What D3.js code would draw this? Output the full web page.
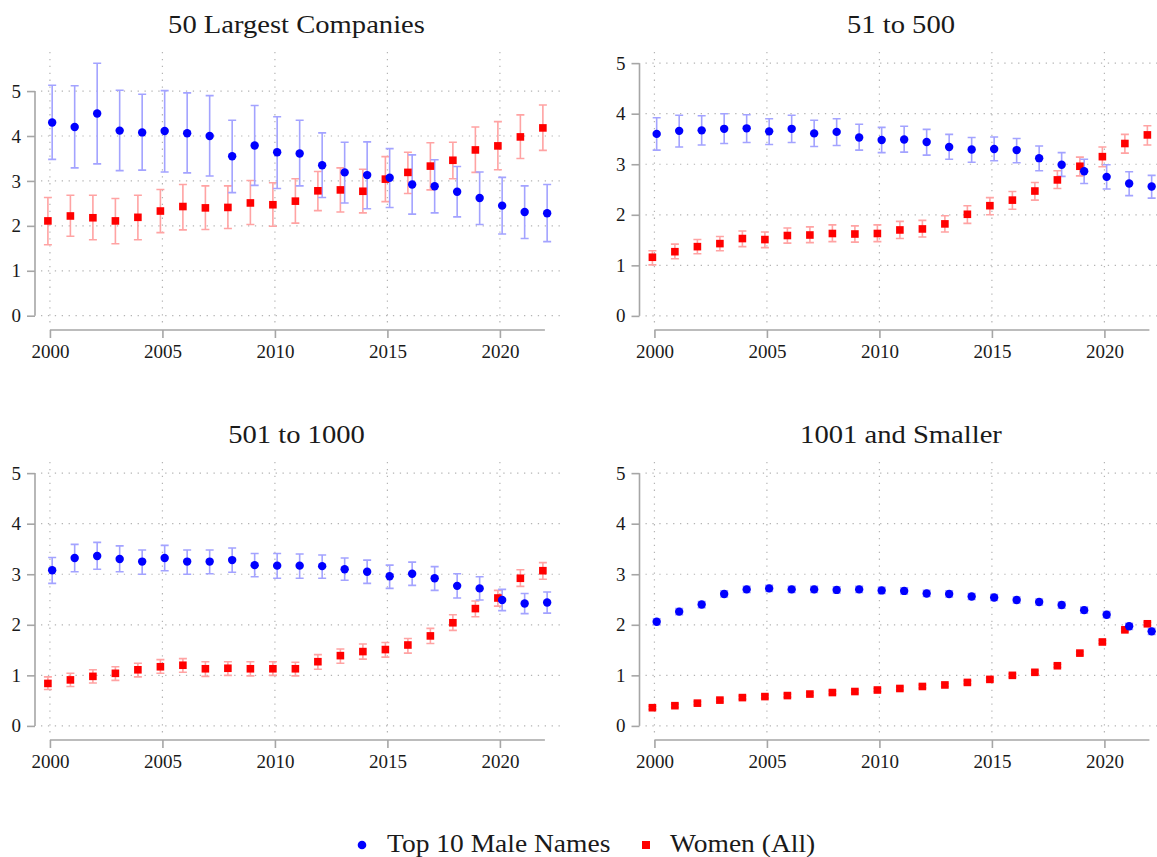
<!DOCTYPE html>
<html>
<head>
<meta charset="utf-8">
<script src="https://cdn.jsdelivr.net/npm/d3@7"></script>
<style>
  html, body { margin: 0; padding: 0; background: #fff; }
  svg { display: block; }
  svg text { font-family: "Liberation Serif", "DejaVu Serif", serif !important; fill: #1a1a1a; }
</style>
</head>
<body>
<svg id="chart" width="1157" height="857"></svg>
<script>
// Years on the x axis
const years = [2000, 2001, 2002, 2003, 2004, 2005, 2006, 2007, 2008, 2009, 2010, 2011,
               2012, 2013, 2014, 2015, 2016, 2017, 2018, 2019, 2020, 2021, 2022];
const xTicks = [2000, 2005, 2010, 2015, 2020];
const yTicks = [0, 1, 2, 3, 4, 5];

// 50 largest companies
const large50MaleMean  = [4.30, 4.20, 4.50, 4.12, 4.08, 4.11, 4.06, 4.00, 3.55, 3.79, 3.64, 3.61, 3.35, 3.19, 3.13, 3.07, 2.92, 2.88, 2.76, 2.62, 2.45, 2.31, 2.28];
const large50MaleLo    = [3.48, 3.29, 3.38, 3.23, 3.24, 3.20, 3.18, 3.11, 2.74, 2.90, 2.83, 2.89, 2.63, 2.51, 2.38, 2.41, 2.26, 2.29, 2.20, 2.03, 1.82, 1.72, 1.65];
const large50MaleHi    = [5.13, 5.12, 5.62, 5.02, 4.93, 5.01, 4.96, 4.90, 4.35, 4.68, 4.43, 4.35, 4.07, 3.86, 3.87, 3.72, 3.58, 3.47, 3.32, 3.20, 3.08, 2.89, 2.92];
const large50WomenMean = [2.11, 2.22, 2.18, 2.11, 2.19, 2.33, 2.43, 2.40, 2.41, 2.51, 2.47, 2.55, 2.78, 2.80, 2.77, 3.04, 3.19, 3.33, 3.46, 3.69, 3.78, 3.98, 4.18];
const large50WomenLo   = [1.58, 1.77, 1.69, 1.60, 1.69, 1.85, 1.91, 1.92, 1.94, 2.03, 1.99, 2.06, 2.34, 2.31, 2.29, 2.54, 2.72, 2.80, 3.05, 3.19, 3.25, 3.50, 3.68];
const large50WomenHi   = [2.63, 2.68, 2.68, 2.61, 2.68, 2.81, 2.92, 2.89, 2.89, 3.01, 2.96, 3.05, 3.21, 3.29, 3.26, 3.54, 3.64, 3.85, 3.86, 4.20, 4.32, 4.47, 4.69];

// Companies ranked 51 to 500
const mid500MaleMean   = [3.60, 3.66, 3.67, 3.70, 3.71, 3.65, 3.70, 3.61, 3.64, 3.53, 3.48, 3.49, 3.44, 3.34, 3.29, 3.30, 3.28, 3.12, 2.99, 2.86, 2.75, 2.62, 2.56];
const mid500MaleLo     = [3.28, 3.34, 3.38, 3.41, 3.43, 3.39, 3.43, 3.35, 3.37, 3.28, 3.23, 3.24, 3.18, 3.10, 3.04, 3.07, 3.03, 2.87, 2.76, 2.62, 2.51, 2.38, 2.33];
const mid500MaleHi     = [3.92, 3.97, 3.96, 4.00, 3.98, 3.90, 3.97, 3.87, 3.90, 3.79, 3.73, 3.75, 3.69, 3.59, 3.53, 3.54, 3.51, 3.36, 3.23, 3.10, 2.99, 2.85, 2.78];
const mid500WomenMean  = [1.16, 1.27, 1.37, 1.43, 1.53, 1.51, 1.59, 1.60, 1.63, 1.62, 1.63, 1.70, 1.72, 1.82, 2.01, 2.18, 2.29, 2.47, 2.69, 2.96, 3.15, 3.41, 3.58];
const mid500WomenLo    = [1.01, 1.13, 1.23, 1.29, 1.37, 1.35, 1.44, 1.45, 1.47, 1.46, 1.47, 1.53, 1.56, 1.66, 1.83, 2.00, 2.11, 2.29, 2.52, 2.77, 2.95, 3.22, 3.38];
const mid500WomenHi    = [1.29, 1.42, 1.51, 1.57, 1.68, 1.66, 1.74, 1.76, 1.80, 1.78, 1.80, 1.87, 1.89, 1.98, 2.18, 2.34, 2.46, 2.64, 2.87, 3.14, 3.34, 3.59, 3.76];

// Companies ranked 501 to 1000
const mid1000MaleMean  = [3.08, 3.32, 3.36, 3.30, 3.25, 3.32, 3.25, 3.25, 3.28, 3.18, 3.17, 3.17, 3.16, 3.10, 3.05, 2.96, 3.01, 2.92, 2.77, 2.72, 2.49, 2.42, 2.44];
const mid1000MaleLo    = [2.82, 3.05, 3.10, 3.05, 3.00, 3.07, 3.00, 3.01, 3.04, 2.95, 2.92, 2.92, 2.92, 2.88, 2.82, 2.72, 2.78, 2.68, 2.53, 2.49, 2.28, 2.22, 2.23];
const mid1000MaleHi    = [3.33, 3.59, 3.63, 3.56, 3.48, 3.57, 3.48, 3.48, 3.52, 3.41, 3.41, 3.40, 3.38, 3.32, 3.28, 3.18, 3.24, 3.15, 3.01, 2.95, 2.70, 2.62, 2.65];
const mid1000WomenMean = [0.84, 0.91, 0.98, 1.04, 1.11, 1.17, 1.20, 1.13, 1.14, 1.13, 1.13, 1.13, 1.27, 1.39, 1.47, 1.51, 1.60, 1.78, 2.04, 2.32, 2.53, 2.92, 3.07];
const mid1000WomenLo   = [0.72, 0.78, 0.85, 0.90, 0.97, 1.04, 1.06, 0.98, 1.00, 0.99, 1.00, 0.99, 1.12, 1.24, 1.32, 1.36, 1.44, 1.63, 1.89, 2.16, 2.37, 2.76, 2.90];
const mid1000WomenHi   = [0.97, 1.04, 1.11, 1.17, 1.24, 1.31, 1.33, 1.27, 1.27, 1.27, 1.27, 1.26, 1.41, 1.52, 1.62, 1.65, 1.73, 1.93, 2.20, 2.47, 2.68, 3.09, 3.23];

// Companies ranked 1001 and below
const smallMaleMean    = [2.06, 2.26, 2.40, 2.61, 2.70, 2.72, 2.70, 2.70, 2.69, 2.70, 2.68, 2.67, 2.62, 2.61, 2.56, 2.54, 2.49, 2.45, 2.39, 2.29, 2.20, 1.97, 1.87];
const smallMaleLo      = [2.00, 2.20, 2.34, 2.55, 2.64, 2.66, 2.64, 2.64, 2.63, 2.64, 2.62, 2.61, 2.56, 2.55, 2.50, 2.48, 2.43, 2.39, 2.33, 2.23, 2.14, 1.91, 1.81];
const smallMaleHi      = [2.12, 2.32, 2.46, 2.67, 2.76, 2.78, 2.76, 2.76, 2.75, 2.76, 2.74, 2.73, 2.68, 2.67, 2.62, 2.60, 2.55, 2.51, 2.45, 2.35, 2.26, 2.03, 1.93];
const smallWomenMean   = [0.36, 0.40, 0.45, 0.51, 0.56, 0.58, 0.60, 0.63, 0.66, 0.68, 0.71, 0.74, 0.78, 0.81, 0.86, 0.92, 1.00, 1.06, 1.19, 1.44, 1.66, 1.90, 2.02];
const smallWomenLo     = [0.33, 0.37, 0.42, 0.48, 0.53, 0.55, 0.57, 0.60, 0.63, 0.65, 0.68, 0.71, 0.75, 0.78, 0.83, 0.89, 0.97, 1.03, 1.16, 1.41, 1.63, 1.87, 1.99];
const smallWomenHi     = [0.39, 0.43, 0.48, 0.54, 0.59, 0.61, 0.63, 0.66, 0.69, 0.71, 0.74, 0.77, 0.81, 0.84, 0.89, 0.95, 1.03, 1.09, 1.22, 1.47, 1.69, 1.93, 2.05];

const panelTitles = ["50 Largest Companies", "51 to 500", "501 to 1000", "1001 and Smaller"];
const legendLabels = ["Top 10 Male Names", "Women (All)"];

const BLUE = "#0000ff", RED = "#ff0000";
const BLUE_CI = "#a3a3ff", RED_CI = "#ffa3a3";
const AXIS = "#a6a6a6", GRID = "#b4b4b4";
const SERIF = "Liberation Serif, DejaVu Serif, serif";

const panels = [
  { title: panelTitles[0], ox: 0,     oy: 0,   yMax: 5.87, yMin: -0.207,
    male: [large50MaleMean, large50MaleLo, large50MaleHi],
    women: [large50WomenMean, large50WomenLo, large50WomenHi] },
  { title: panelTitles[1], ox: 604.5, oy: 0,   yMax: 5.22, yMin: -0.18,
    male: [mid500MaleMean, mid500MaleLo, mid500MaleHi],
    women: [mid500WomenMean, mid500WomenLo, mid500WomenHi] },
  { title: panelTitles[2], ox: 0,     oy: 410, yMax: 5.22, yMin: -0.18,
    male: [mid1000MaleMean, mid1000MaleLo, mid1000MaleHi],
    women: [mid1000WomenMean, mid1000WomenLo, mid1000WomenHi] },
  { title: panelTitles[3], ox: 604.5, oy: 410, yMax: 5.22, yMin: -0.18,
    male: [smallMaleMean, smallMaleLo, smallMaleHi],
    women: [smallWomenMean, smallWomenLo, smallWomenHi] }
];

const svg = d3.select("#chart");
const STRETCH = 1.1; // widen serif text toward the Computer Modern proportions

function stretchText(sel) {
  sel.each(function () {
    const w = this.getComputedTextLength();
    d3.select(this).attr("textLength", w * STRETCH).attr("lengthAdjust", "spacingAndGlyphs");
  });
}

// Panel frame in local coordinates
const plotLeft = 38, plotRight = 562, plotTop = 52, plotBottom = 325;
const yAxisX = 35, xAxisY = 330;
const MALE_SHIFT = 0.1, WOMEN_SHIFT = -0.09;

panels.forEach(p => {
  const g = svg.append("g").attr("transform", `translate(${p.ox},${p.oy})`);

  const x = d3.scaleLinear().domain([1999.47, 2022.76]).range([plotLeft, plotRight]);
  const y = d3.scaleLinear().domain([p.yMin, p.yMax]).range([plotBottom, plotTop]);

  // Title
  g.append("text")
    .attr("x", (yAxisX + plotRight) / 2 - 2)
    .attr("y", 33)
    .attr("text-anchor", "middle")
    .attr("font-family", SERIF)
    .attr("font-size", 26)
    .text(p.title)
    .call(stretchText);

  // Dotted grid
  g.append("g").selectAll("line.hg").data(yTicks).join("line")
    .attr("x1", plotLeft + 3).attr("x2", plotRight)
    .attr("y1", d => y(d)).attr("y2", d => y(d))
    .attr("stroke", GRID).attr("stroke-width", 1.2)
    .attr("stroke-dasharray", "1.3,5.6");
  g.append("g").selectAll("line.vg").data(xTicks).join("line")
    .attr("x1", d => x(d)).attr("x2", d => x(d))
    .attr("y1", plotTop).attr("y2", plotBottom)
    .attr("stroke", GRID).attr("stroke-width", 1.2)
    .attr("stroke-dasharray", "1.3,5.6");

  // Y axis: line spans 0..5 only
  const yAxis = d3.axisLeft(y).tickValues(yTicks).tickSize(8).tickPadding(6).tickFormat(d3.format("d"));
  const ya = g.append("g").attr("transform", `translate(${yAxisX},0)`).call(yAxis)
    .attr("font-family", SERIF);
  ya.select(".domain").remove();
  ya.append("line").attr("x1", 0).attr("x2", 0).attr("y1", y(0)).attr("y2", y(5))
    .attr("stroke", AXIS).attr("stroke-width", 1.6);
  ya.selectAll(".tick line").attr("stroke", AXIS).attr("stroke-width", 1.6);
  ya.selectAll(".tick text").attr("font-size", 19).attr("fill", "#1a1a1a");

  // X axis: line spans 2000..2022
  const xAxis = d3.axisBottom(x).tickValues(xTicks).tickSize(8).tickPadding(7).tickFormat(d3.format("d"));
  const xa = g.append("g").attr("transform", `translate(0,${xAxisY})`).call(xAxis)
    .attr("font-family", SERIF);
  xa.select(".domain").remove();
  xa.append("line").attr("x1", x(years[0])).attr("x2", x(years[years.length - 1]))
    .attr("y1", 0).attr("y2", 0).attr("stroke", AXIS).attr("stroke-width", 1.6);
  xa.selectAll(".tick line").attr("stroke", AXIS).attr("stroke-width", 1.6);
  xa.selectAll(".tick text").attr("font-size", 19).attr("fill", "#1a1a1a");

  const rows = (series, shift) => years.map((yr, i) => ({
    x: x(yr + shift), mean: series[0][i], lo: series[1][i], hi: series[2][i]
  }));
  const womenRows = rows(p.women, WOMEN_SHIFT);
  const maleRows = rows(p.male, MALE_SHIFT);

  function errorBars(data, color) {
    const eg = g.append("g").attr("stroke", color).attr("stroke-width", 1.6).attr("fill", "none");
    const cap = 4;
    eg.selectAll("path").data(data).join("path")
      .attr("d", d => `M${d.x},${y(d.hi)}V${y(d.lo)}` +
                      `M${d.x - cap},${y(d.hi)}H${d.x + cap}` +
                      `M${d.x - cap},${y(d.lo)}H${d.x + cap}`);
  }

  errorBars(womenRows, RED_CI);
  errorBars(maleRows, BLUE_CI);

  g.append("g").selectAll("rect").data(womenRows).join("rect")
    .attr("x", d => d.x - 3.8).attr("y", d => y(d.mean) - 3.8)
    .attr("width", 7.6).attr("height", 7.6).attr("fill", RED);

  g.append("g").selectAll("circle").data(maleRows).join("circle")
    .attr("cx", d => d.x).attr("cy", d => y(d.mean)).attr("r", 4.2).attr("fill", BLUE);
});

// Legend
const lg = svg.append("g").attr("font-family", SERIF);
lg.append("circle").attr("cx", 362).attr("cy", 845).attr("r", 4.3).attr("fill", BLUE);
lg.append("text").attr("x", 387).attr("y", 852).attr("font-size", 25).text(legendLabels[0]).call(stretchText);
lg.append("rect").attr("x", 642).attr("y", 841).attr("width", 8).attr("height", 8).attr("fill", RED);
lg.append("text").attr("x", 670).attr("y", 852).attr("font-size", 25).text(legendLabels[1]).call(stretchText);
</script>
</body>
</html>
